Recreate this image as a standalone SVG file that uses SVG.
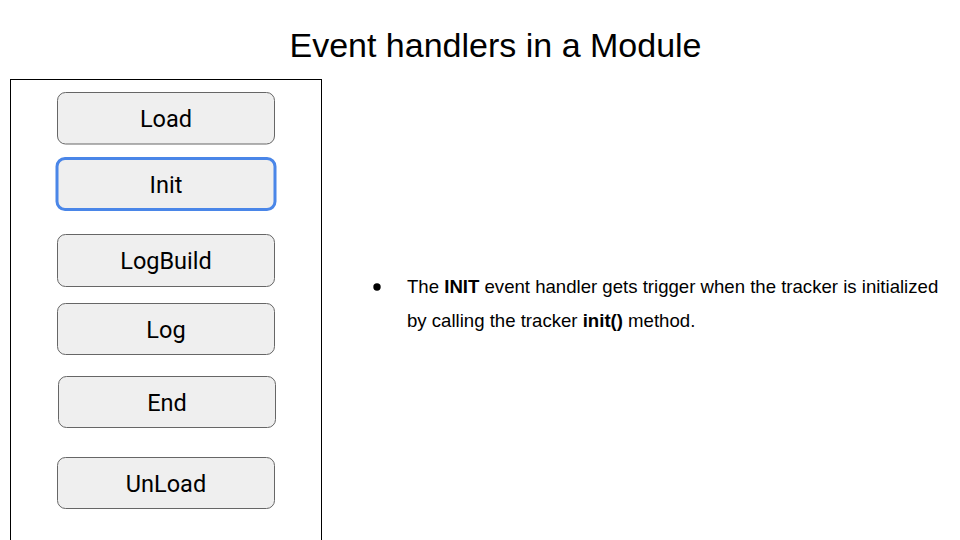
<svg xmlns="http://www.w3.org/2000/svg" width="960" height="540" viewBox="0 0 960 540">
<style>
.box{fill:#efefef;stroke:#666666;stroke-width:1}
.sel{fill:#efefef;stroke:#4a86e8;stroke-width:3}
.lbl{font-family:Roboto,"Liberation Sans",sans-serif;font-size:23.5px;fill:#000;text-anchor:middle}
.body{font-family:"Liberation Sans",Arial,sans-serif;font-size:18.6px;fill:#000}
</style>
<rect width="960" height="540" fill="#ffffff"/>
<text x="495.5" y="56.5" font-family="'Liberation Sans',Arial,sans-serif" font-size="34" text-anchor="middle" fill="#000">Event handlers in a Module</text>
<g id="module">
<rect x="10.5" y="79.5" width="311" height="470" fill="none" stroke="#000" stroke-width="1"/>
</g>
<g id="load"><rect class="box" x="57.5" y="92.5" width="217" height="51.5" rx="8"/><text class="lbl" x="166" y="126.7">Load</text></g>
<g id="init"><rect class="sel" x="57" y="158.5" width="218" height="51" rx="8"/><text class="lbl" x="166" y="192.7">Init</text></g>
<g id="logbuild"><rect class="box" x="57.5" y="234.5" width="217" height="52" rx="8"/><text class="lbl" x="166" y="269.3">LogBuild</text></g>
<g id="log"><rect class="box" x="57.5" y="303.5" width="217" height="51" rx="8"/><text class="lbl" x="166" y="337.5">Log</text></g>
<g id="end"><rect class="box" x="58.5" y="376.5" width="217" height="51" rx="8"/><text class="lbl" x="167" y="410.5">End</text></g>
<g id="unload"><rect class="box" x="57.5" y="457.5" width="217" height="51" rx="8"/><text class="lbl" x="166" y="491.5">UnLoad</text></g>
<g id="connectors"></g>
<g id="note">
<circle cx="377" cy="287" r="3.7" fill="#000"/>
<text class="body" x="407" y="292.7">The <tspan font-weight="bold">INIT</tspan> event handler gets trigger when the tracker is initialized</text>
<text class="body" x="407" y="326.5">by calling the tracker <tspan font-weight="bold">init()</tspan> method.</text>
</g>
</svg>
